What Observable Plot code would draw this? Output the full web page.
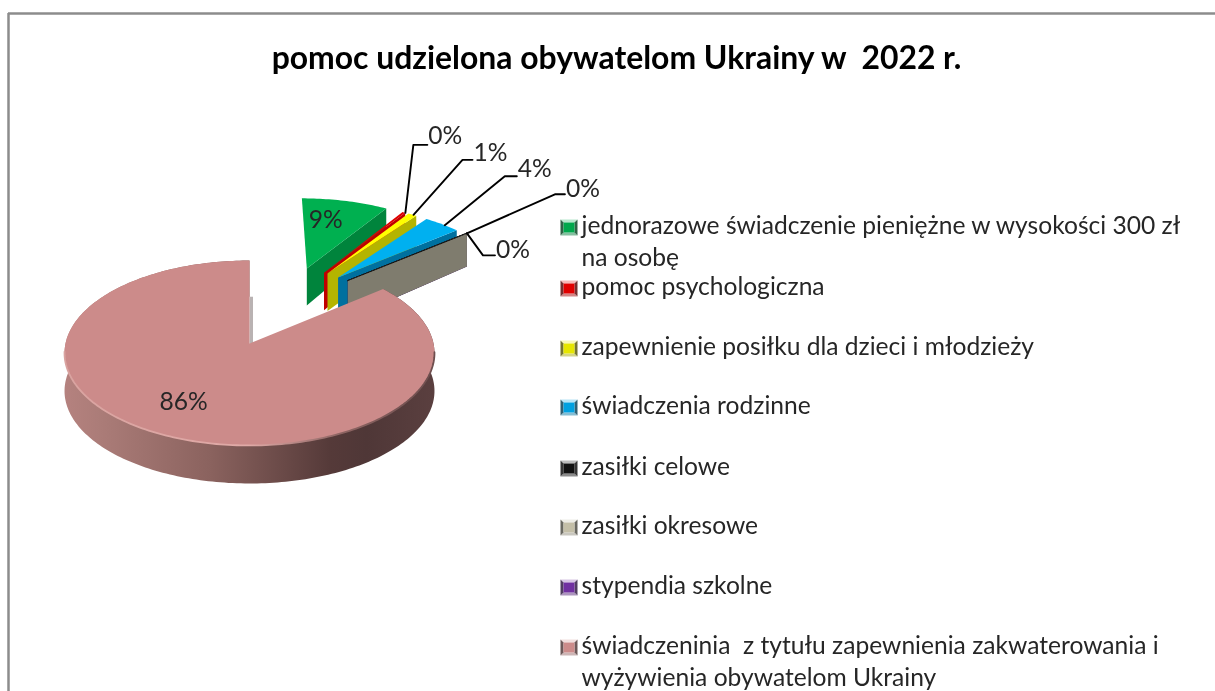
<!DOCTYPE html>
<html lang="pl">
<head>
<meta charset="utf-8">
<style>html,body{margin:0;padding:0;background:#fff;overflow:hidden}svg{display:block;filter:blur(0.45px)}</style>
<script src="https://cdn.jsdelivr.net/npm/d3@7"></script>
<script src="https://cdn.jsdelivr.net/npm/@observablehq/plot@0.6"></script>
</head>
<body>
<script>
const chartTitle = "pomoc udzielona obywatelom Ukrainy w  2022 r.";
const categories = [
  "jednorazowe świadczenie pieniężne w wysokości 300 zł\nna osobę",
  "pomoc psychologiczna",
  "zapewnienie posiłku dla dzieci i młodzieży",
  "świadczenia rodzinne",
  "zasiłki celowe",
  "zasiłki okresowe",
  "stypendia szkolne",
  "świadczeninia  z tytułu zapewnienia zakwaterowania i\nwyżywienia obywatelom Ukrainy"
];
const values = [9.0, 0.3, 0.9, 3.8, 0.02, 0.05, 0.01, 85.92];
const valueLabels = ["9%", "0%", "1%", "4%", "", "0%", "0%", "86%"];

// styles and layout
const topColors = ["#00b050", "#e00000", "#ffff00", "#00b0f0", "#111111", "#6b685c", "#7030a0", "#cc8b8a"];
const wallColors = ["#00843c", "#c00000", "#b4b400", "#00709f", "#111111", "#7f7c6e", "#4b2070", "#8a625e"];
const swatchColors = ["#00a84c", "#e00000", "#e6e600", "#00a0e0", "#111111", "#c4bfa8", "#7030a0", "#cc8b8a"];
const explodeX = [0.34, 0.44, 0.46, 0.52, 0.575, 0.575, 0.575, 0];
const explodeY = [-0.895, -0.84, -0.83, -0.78, -0.74, -0.74, -0.74, 0];
const legendRowY = [226, 287, 347, 406, 467, 526, 586, 646];
const legendLineStep = 32;
const W = 1215, H = 691;
const cx = 249, cy = 343, R = 184, S = 91.5, K = 0.1027;

const total = d3.sum(values);
const ends = d3.cumsum(values).map(v => v / total * 2 * Math.PI);
const starts = ends.map((e, i) => i ? ends[i - 1] : 0);

const depthAt = wy => Math.min(38, 37 + 8 * (wy + 0.9));
function project(wx, wy, dropped = false) {
  const s = 1 / (1 - K * wy);
  return {x: cx + R * wx * s, y: cy + S * wy * s + (dropped ? depthAt(wy) : 0)};
}
function rim(i, a, dropped = false) {
  return project(explodeX[i] + Math.sin(a), explodeY[i] - Math.cos(a), dropped);
}
function apex(i, dropped = false) { return project(explodeX[i], explodeY[i], dropped); }
function arc(i, a0 = starts[i], a1 = ends[i], dropped = false) {
  const n = Math.max(2, Math.ceil((a1 - a0) / 0.02));
  return d3.range(n + 1).map(j => rim(i, a0 + (a1 - a0) * j / n, dropped));
}
const poly = (points, fill) => Plot.line(points, {x: "x", y: "y", fill, stroke: "none", curve: "linear-closed"});

// painter's order: exploded slices back to front, then the large slice
const sliceMarks = [];
[0, 1, 2, 3, 4, 6, 5].forEach(i => {
  const a = ends[i];
  sliceMarks.push(poly([apex(i), rim(i, a), rim(i, a, true), apex(i, true)], wallColors[i]));
  sliceMarks.push(poly([apex(i), ...arc(i)], topColors[i]));
  if (values[i] < 0.2) sliceMarks.push(Plot.line([apex(i), rim(i, a)], {x: "x", y: "y", stroke: "#111", strokeWidth: 1, strokeDasharray: "2 1"}));
});

const big = values.length - 1;
const topArc = arc(big);
const bottomArc = arc(big, starts[big], ends[big], true);
const cutBottom = rim(big, ends[big], true);
const bigMarks = [
  poly([{x: cutBottom.x, y: cutBottom.y}, apex(big), {x: apex(big).x + 3.5, y: apex(big).y}, {x: cutBottom.x + 3.5, y: cutBottom.y}], "#b9b2b2"),
  poly([...topArc, ...bottomArc.slice().reverse()], "url(#wallGrad)"),
  poly([apex(big), ...topArc], topColors[big]),
  Plot.line(topArc.filter(p => p.y >= cy + 8), {x: "x", y: "y", stroke: "url(#rimGrad)", strokeWidth: 1.8})
];

// leader lines start from the slice rims
const leaderIdx = [1, 2, 3, 5, 6];
const leaderAnchors = [rim(1, starts[1] + 0.02), rim(2, ends[2] - 0.02), rim(3, starts[3] + 0.14), rim(5, ends[5]), rim(6, ends[6])];
const leaderElbow = [[8, -68, 14], [49, -55, 10], [60, -49, 12], [88, -39, 10], [16, 22, 12]];
const leaderTextDy = [-9, -7, -7, -5, -5];
const leaders = leaderIdx.map((i, j) => {
  const a = leaderAnchors[j], e = leaderElbow[j];
  const b = {x: a.x + e[0], y: a.y + e[1]};
  return {i, pts: [a, b, {x: b.x + e[2], y: b.y}], text: valueLabels[i], tx: b.x + e[2] + 1, ty: b.y + leaderTextDy[j]};
});

const legendLines = categories.flatMap((c, i) => c.split("\n").map((t, l) => ({t, y: legendRowY[i] + l * legendLineStep})));

function swatch(i) {
  const y0 = legendRowY[i] - 7, x0 = 560, s = 17, h = 16, b = 3;
  const P = (x, y) => ({x: x0 + x, y: y0 + y});
  const c = d3.color(swatchColors[i]);
  return [
    poly([P(0, 0), P(s, 0), P(s - b, b), P(b, b)], d3.interpolateRgb(c, "#fff")(0.72)),
    poly([P(0, h), P(s, h), P(s - b, h - b), P(b, h - b)], d3.interpolateRgb(c, "#ccc")(0.65)),
    poly([P(0, 0), P(b, b), P(b, h - b), P(0, h)], d3.interpolateRgb(c, "#444")(0.7)),
    poly([P(s, 0), P(s - b, b), P(s - b, h - b), P(s, h)], d3.interpolateRgb(c, "#444")(0.7)),
    poly([P(b, b), P(s - b, b), P(s - b, h - b), P(b, h - b)], swatchColors[i])
  ];
}

function defs() {
  const g = document.createElementNS("http://www.w3.org/2000/svg", "defs");
  g.innerHTML = `
  <linearGradient id="wallGrad" gradientUnits="userSpaceOnUse" x1="63" x2="433" y1="0" y2="0">
    <stop offset="0" stop-color="#b5827f"/><stop offset="0.1" stop-color="#ab7c78"/>
    <stop offset="0.4" stop-color="#8a625e"/><stop offset="0.72" stop-color="#553a39"/>
    <stop offset="0.82" stop-color="#4f3737"/><stop offset="1" stop-color="#5a3f3f"/>
  </linearGradient>
  <linearGradient id="rimGrad" gradientUnits="userSpaceOnUse" x1="63" x2="433" y1="0" y2="0">
    <stop offset="0" stop-color="#d9a3a0"/><stop offset="0.5" stop-color="#e0aaa7"/>
    <stop offset="0.75" stop-color="#8d6462"/><stop offset="1" stop-color="#6e4e4e"/>
  </linearGradient>`;
  return g;
}

const textStyle = {fontFamily: "Lato, 'Noto Sans', sans-serif", fontSize: 24.6, fill: "#262626", lineAnchor: "middle"};

const plot = Plot.plot({
  width: W, height: H, margin: 0,
  x: {domain: [0, W], range: [0, W], axis: null},
  y: {domain: [0, H], range: [0, H], axis: null},
  style: {background: "#fff"},
  marks: [
    defs,
    Plot.ruleY([13], {x1: 8, x2: W, stroke: "#8c8c8c", strokeWidth: 2.5}),
    Plot.ruleX([8], {y1: 13, y2: H, stroke: "#8c8c8c", strokeWidth: 2.5}),
    Plot.text([chartTitle], {x: 616, y: 58, text: d => d, fontFamily: "Lato, sans-serif", fontWeight: 700, fontSize: 31.9, fill: "#000", lineAnchor: "middle", textAnchor: "middle"}),
    ...sliceMarks,
    ...bigMarks,
    ...leaders.map(l => Plot.line(l.pts, {x: "x", y: "y", stroke: "#000", strokeWidth: 1.9, curve: "linear"})),
    Plot.text(leaders, {x: "tx", y: "ty", text: "text", textAnchor: "start", ...textStyle}),
    Plot.text([0], {x: () => apex(0).x + 19, y: () => apex(0).y - 48, text: () => valueLabels[0], textAnchor: "middle", ...textStyle}),
    Plot.text([big], {x: () => cx - 66, y: () => cy + 59, text: () => valueLabels[big], textAnchor: "middle", ...textStyle}),
    ...categories.flatMap((c, i) => swatch(i)),
    Plot.text(legendLines, {x: 581, y: "y", text: "t", textAnchor: "start", ...textStyle})
  ]
});
document.body.appendChild(plot);
</script>
</body>
</html>
